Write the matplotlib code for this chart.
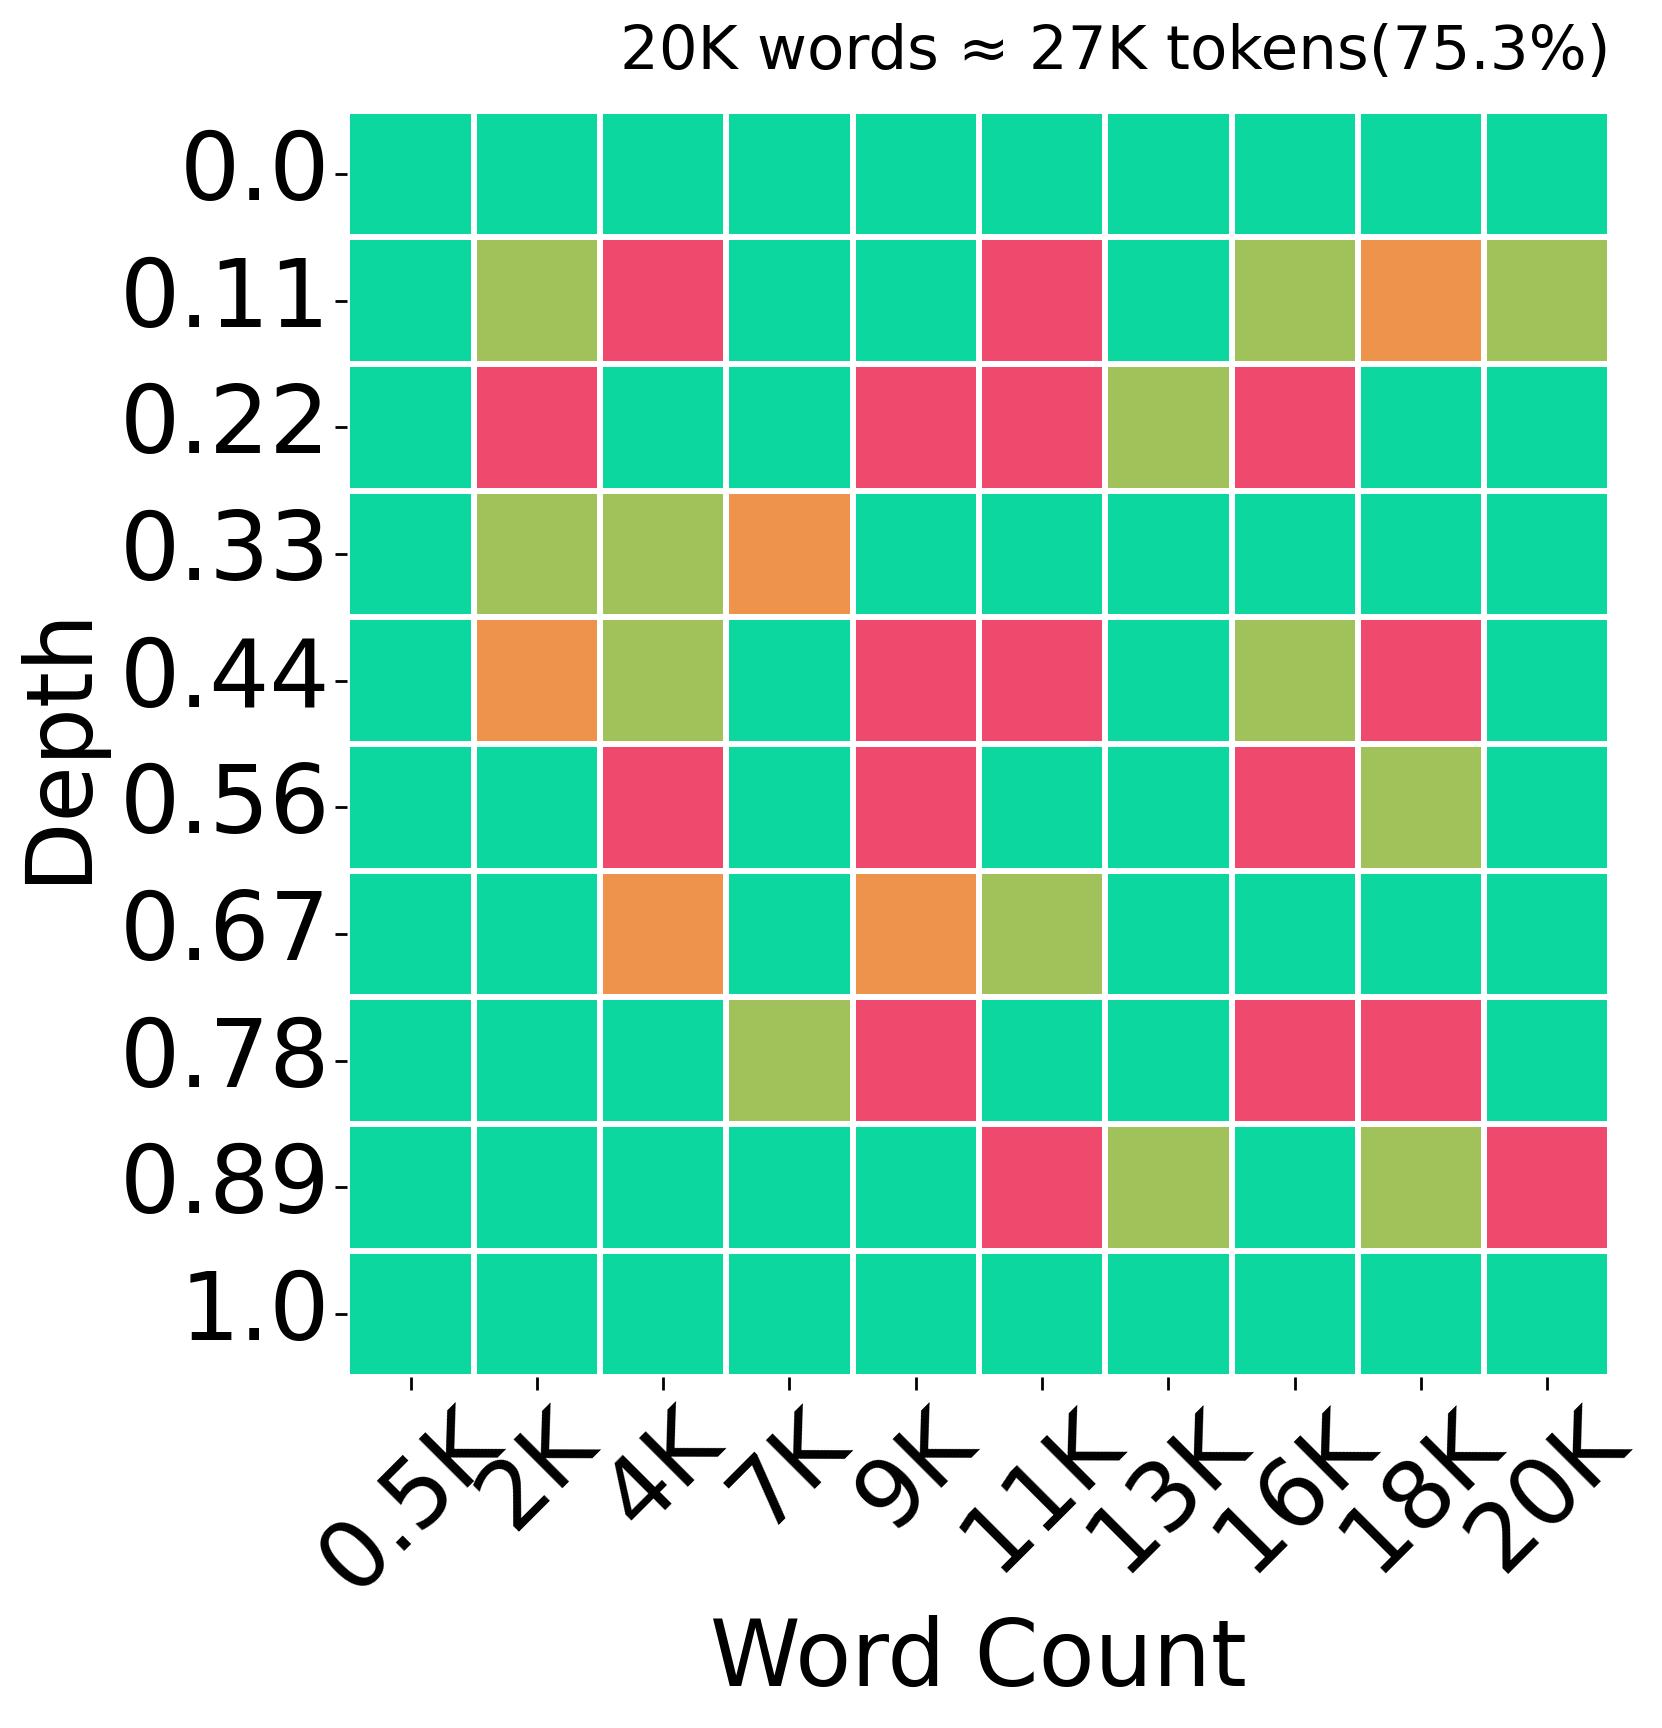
import matplotlib
matplotlib.use('Agg')
import matplotlib.pyplot as plt
from matplotlib.colors import LinearSegmentedColormap
import numpy as np
import pandas as pd
import seaborn as sns

depths = ['0.0', '0.11', '0.22', '0.33', '0.44', '0.56', '0.67', '0.78', '0.89', '1.0']
word_counts = ['0.5K', '2K', '4K', '7K', '9K', '11K', '13K', '16K', '18K', '20K']

# score per cell: 1 = found, 2/3 and 1/3 partial, 0 = missed
G, P, H, R = 1.0, 2 / 3, 1 / 3, 0.0
scores = [
    [G, G, G, G, G, G, G, G, G, G],
    [G, P, R, G, G, R, G, P, H, P],
    [G, R, G, G, R, R, P, R, G, G],
    [G, P, P, H, G, G, G, G, G, G],
    [G, H, P, G, R, R, G, P, R, G],
    [G, G, R, G, R, G, G, R, P, G],
    [G, G, H, G, H, P, G, G, G, G],
    [G, G, G, P, R, G, G, R, R, G],
    [G, G, G, G, G, R, P, G, P, R],
    [G, G, G, G, G, G, G, G, G, G],
]
title = '20K words \u2248 27K tokens(75.3%)'

df = pd.DataFrame(scores, index=depths, columns=word_counts)
cmap = LinearSegmentedColormap.from_list('custom_cmap', ['#F0496E', '#EBB839', '#0CD79F'])

fig = plt.figure(figsize=(16.62, 17.28), dpi=100)
ax = fig.add_axes([0.209, 0.203, 0.76, 0.733])
sns.heatmap(df, cmap=cmap, vmin=0, vmax=1, cbar=False,
            linewidths=4.3, linecolor='white', ax=ax)

ax.set_title(title, loc='right', fontsize=44, pad=30)
ax.set_xlabel('Word Count', fontsize=66, labelpad=4)
ax.set_ylabel('Depth', fontsize=66, labelpad=12)
ax.tick_params(axis='both', labelsize=68, length=9, width=2)
plt.setp(ax.get_xticklabels(), rotation=45, ha='center')
plt.setp(ax.get_yticklabels(), rotation=0)

fig.savefig('out.png', dpi=100)
